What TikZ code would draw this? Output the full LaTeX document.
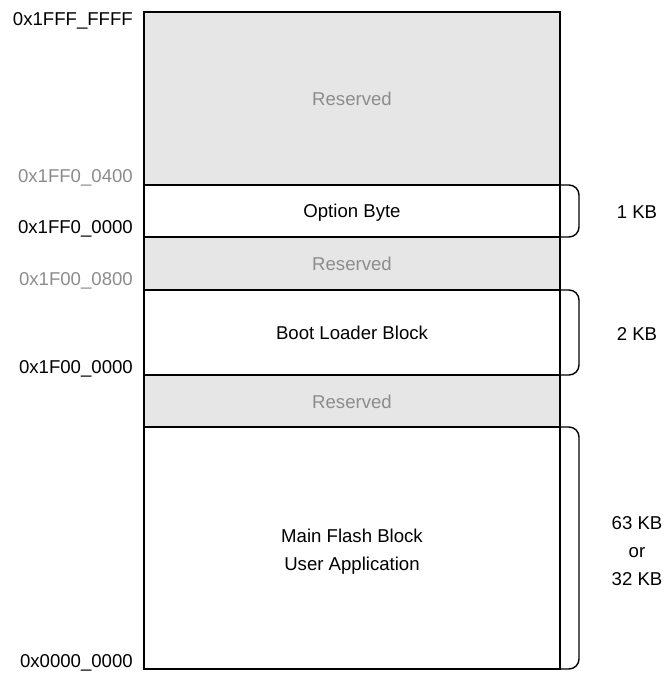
\documentclass[tikz,border=0pt]{standalone}
\usepackage{fontspec}
\setmainfont{Liberation Sans}
\usetikzlibrary{positioning}
\definecolor{resfill}{HTML}{E6E6E6}
\definecolor{restext}{HTML}{8C8C8C}

\begin{document}
\begin{tikzpicture}[x=1pt,y=-1pt,
  blk/.style={draw, line width=1.4pt, outer sep=0pt, inner sep=0pt, minimum width=416},
  lbl/.style={font=\fontsize{18.6}{28}\selectfont, inner sep=0pt, anchor=base},
  addr/.style={lbl, anchor=base east},
  brk/.style={line width=1.4pt, rounded corners=10pt}]
\useasboundingbox (0,0) rectangle (672,673);
% memory blocks, top to bottom
\foreach \name/\top/\bot/\col in {res1/12/185/resfill, optb/185/237/white, res2/237/290/resfill,
    boot/290/375/white, res3/375/427/resfill, main/427/669/white}
  {\node[blk, fill=\col, minimum height={\bot-\top}] (\name) at (352,{(\top+\bot)/2}) {};}
% block texts
\node[lbl, text=restext] (res1t) at (352,105) {Reserved};
\node[lbl] (optbt) at (352,217) {Option Byte};
\node[lbl, text=restext] (res2t) at (352,270) {Reserved};
\node[lbl] (boott) at (352,339) {Boot Loader Block};
\node[lbl, text=restext] (res3t) at (352,408.5) {Reserved};
\node[lbl, anchor=center, align=center] (maint) at (352,552) {Main Flash Block\\User Application};
% addresses
\foreach \name/\y/\col/\txt in {atop/25/black/0x1FFF\_FFFF, aopth/182/restext/0x1FF0\_0400,
    aoptl/233.5/black/0x1FF0\_0000, abooth/285/restext/0x1F00\_0800,
    abootl/373/black/0x1F00\_0000, amainl/667/black/0x0000\_0000}
  {\node[addr, text=\col] (\name) at (133,\y) {\txt};}
% sizes
\foreach \name in {optb, boot, main}
  {\draw[brk] (\name.north east) -- ++(19,0) |- (\name.south east);}
\node[lbl] (optbsz) at (637,218) {1 KB};
\node[lbl] (bootsz) at (637,340) {2 KB};
\node[lbl, anchor=center, align=center] (mainsz) at (637,551.5) {63 KB\\or\\32 KB};
\end{tikzpicture}
\end{document}
